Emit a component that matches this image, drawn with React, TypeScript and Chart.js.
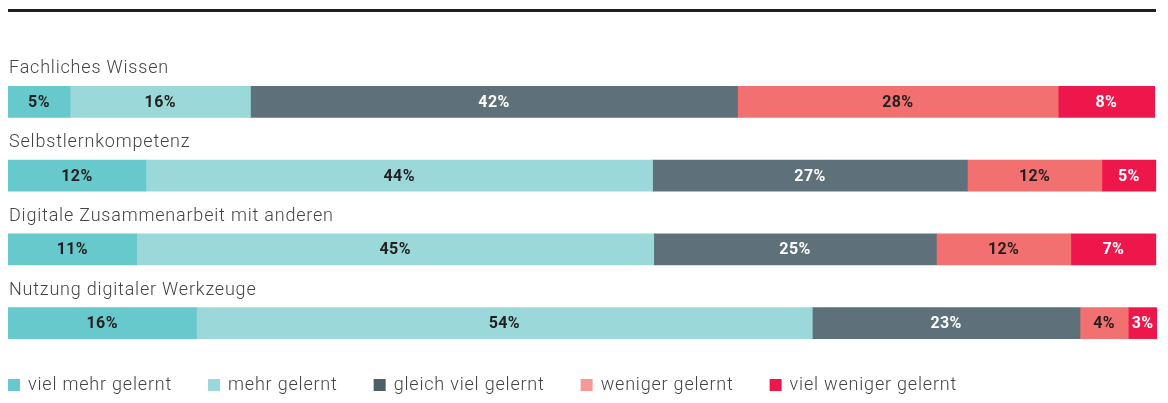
import { useEffect, useRef } from "react";
import { Chart, registerables } from "chart.js";

Chart.register(...registerables);

const categories = [
  "Fachliches Wissen",
  "Selbstlernkompetenz",
  "Digitale Zusammenarbeit mit anderen",
  "Nutzung digitaler Werkzeuge",
];
const seriesNames = [
  "viel mehr gelernt",
  "mehr gelernt",
  "gleich viel gelernt",
  "weniger gelernt",
  "viel weniger gelernt",
];
const vielMehr = [5.4, 12.0, 11.2, 16.4];
const mehr = [15.7, 44.1, 45.0, 53.6];
const gleich = [42.4, 27.4, 24.6, 23.3];
const weniger = [27.9, 11.7, 11.7, 4.2];
const vielWeniger = [8.4, 4.7, 7.4, 2.5];

const barColors = ["#67c9cc", "#9bd8da", "#5e717b", "#f27070", "#ee174b"];
const legendColors = ["#67c9cc", "#9bd8da", "#4f5f68", "#f79a95", "#ee174b"];
const labelColors = ["#231f20", "#231f20", "#ffffff", "#231f20", "#ffffff"];

const decor = {
  id: "decor",
  afterDatasetsDraw(chart: any) {
    const ctx = chart.ctx as any;
    const { left, right } = chart.chartArea;
    ctx.save();
    // top rule
    ctx.fillStyle = "#231f20";
    ctx.fillRect(left, 1, right - left - 1, 3);

    // category labels above bars
    const meta0 = chart.getDatasetMeta(0);
    ctx.font = "300 18px Roboto";
    ctx.letterSpacing = "0.8px";
    ctx.fillStyle = "#444444";
    ctx.textAlign = "left";
    ctx.textBaseline = "alphabetic";
    meta0.data.forEach((bar: any, i: number) => {
      const p = bar.getProps(["y", "height"], true);
      const top = p.y - p.height / 2;
      ctx.fillText(chart.data.labels[i], left + 1, top - 13);
    });

    // value labels
    ctx.font = "bold 16px Roboto";
    ctx.letterSpacing = "0.4px";
    ctx.textAlign = "center";
    ctx.textBaseline = "middle";
    chart.data.datasets.forEach((ds: any, di: number) => {
      const meta = chart.getDatasetMeta(di);
      meta.data.forEach((bar: any, i: number) => {
        const v = ds.data[i];
        const p = bar.getProps(["x", "y", "base"], true);
        ctx.fillStyle = labelColors[di];
        ctx.fillText(Math.round(v) + "%", (p.x + p.base) / 2, p.y + 1);
      });
    });

    // legend
    ctx.font = "300 18px Roboto";
    ctx.letterSpacing = "0.8px";
    ctx.textAlign = "left";
    ctx.textBaseline = "middle";
    let x = left;
    const ly = 377;
    chart.data.datasets.forEach((ds: any, di: number) => {
      ctx.fillStyle = legendColors[di];
      ctx.fillRect(x, ly - 6, 12, 12);
      ctx.fillStyle = "#444444";
      ctx.fillText(ds.label, x + 20, ly);
      x += 20 + ctx.measureText(ds.label).width + 36;
    });
    ctx.restore();
  },
};

export default function App() {
  const ref = useRef<HTMLCanvasElement | null>(null);
  useEffect(() => {
    if (!ref.current) return;
    const seriesData = [vielMehr, mehr, gleich, weniger, vielWeniger];
    const chart = new Chart(ref.current, {
      type: "bar",
      data: {
        labels: categories,
        datasets: seriesData.map((d, i) => ({
          label: seriesNames[i],
          data: d,
          backgroundColor: barColors[i],
          borderWidth: 0,
          barThickness: 31,
        })),
      },
      options: {
        indexAxis: "y",
        animation: false,
        responsive: true,
        maintainAspectRatio: false,
        layout: { padding: { top: 57, bottom: 43, left: 0, right: 3 } },
        scales: {
          x: { stacked: true, min: 0, max: 100, display: false, grid: { display: false } },
          y: { stacked: true, display: false, grid: { display: false } },
        },
        plugins: {
          legend: { display: false },
          tooltip: { enabled: false },
        },
      },
      plugins: [decor],
    });
    return () => chart.destroy();
  }, []);
  return (
    <div style={{ position: "relative", width: 1152, height: 395 }}>
      <canvas ref={ref} />
    </div>
  );
}
